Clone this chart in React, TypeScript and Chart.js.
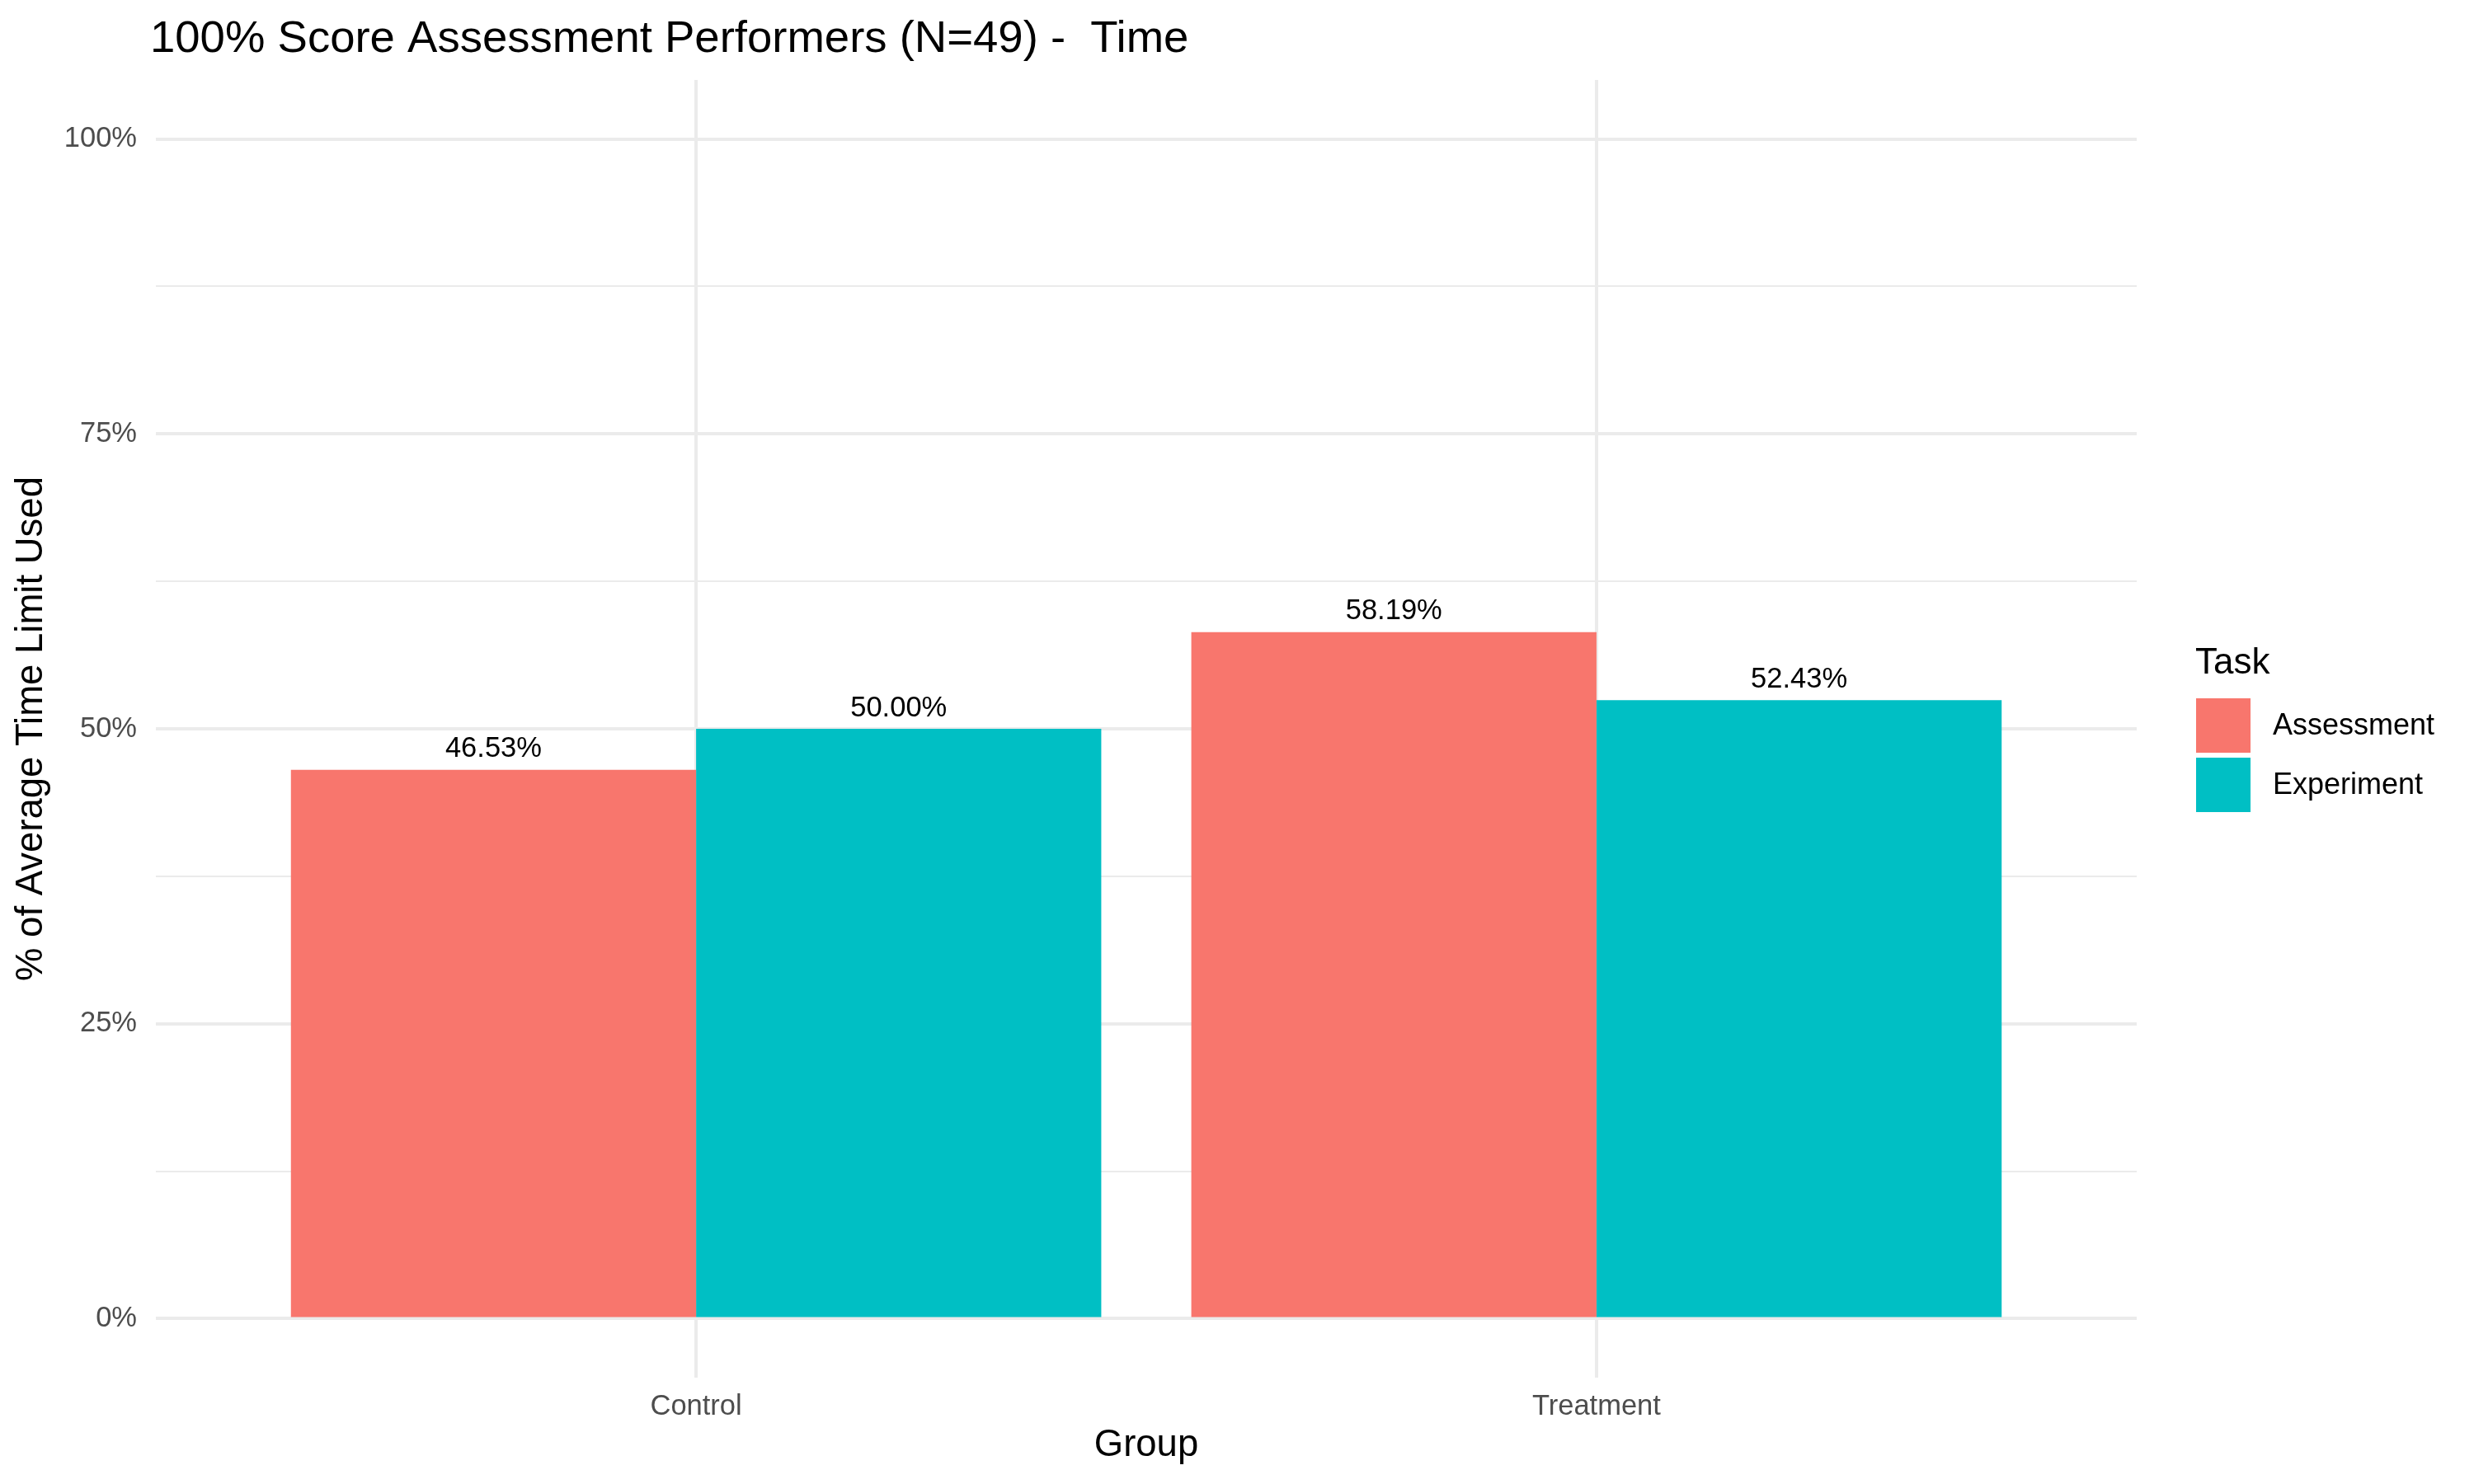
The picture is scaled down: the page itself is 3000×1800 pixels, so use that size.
import React, { useEffect, useRef } from "react";
import { Chart, registerables } from "chart.js";

Chart.register(...registerables);

const groups = ["Control", "Treatment"];
const seriesNames = ["Assessment", "Experiment"];
const assessmentValues = [46.53, 58.19];
const experimentValues = [50.0, 52.43];
const seriesColors = ["#F8766D", "#00BFC4"];
const yTickValues = [0, 12.5, 25, 37.5, 50, 62.5, 75, 87.5, 100];
const titleText = "100% Score Assessment Performers (N=49) -  Time";
const xTitle = "Group";
const yTitle = "% of Average Time Limit Used";
const legendTitle = "Task";

const FONT = "'Liberation Sans', Arial, sans-serif";

const decorPlugin = {
  id: "decor",
  afterDatasetsDraw(chart: any) {
    const ctx = chart.ctx;
    ctx.save();
    ctx.fillStyle = "#000000";
    ctx.font = `34.5px ${FONT}`;
    ctx.textAlign = "center";
    ctx.textBaseline = "middle";
    chart.data.datasets.forEach((ds: any, di: number) => {
      const meta = chart.getDatasetMeta(di);
      meta.data.forEach((bar: any, i: number) => {
        const v = ds.data[i].y;
        ctx.fillText(v.toFixed(2) + "%", bar.x, bar.y - 25);
      });
    });
    ctx.restore();
  },
  afterDraw(chart: any) {
    const ctx = chart.ctx;
    const area = chart.chartArea;
    ctx.save();
    ctx.fillStyle = "#000000";
    ctx.font = `54.5px ${FONT}`;
    ctx.textAlign = "left";
    ctx.textBaseline = "alphabetic";
    ctx.fillText(titleText, 182, 63);
    ctx.font = `45.5px ${FONT}`;
    ctx.textAlign = "center";
    ctx.textBaseline = "middle";
    ctx.fillText(xTitle, (area.left + area.right) / 2, 1753);
    ctx.save();
    ctx.translate(38, (area.top + area.bottom) / 2);
    ctx.rotate(-Math.PI / 2);
    ctx.fillText(yTitle, 0, 0);
    ctx.restore();
    ctx.textAlign = "left";
    ctx.textBaseline = "alphabetic";
    ctx.font = `44px ${FONT}`;
    ctx.fillText(legendTitle, 2662, 817);
    ctx.font = `36px ${FONT}`;
    ctx.textBaseline = "middle";
    chart.data.datasets.forEach((ds: any, di: number) => {
      const y0 = 847 + di * 72;
      ctx.fillStyle = ds.backgroundColor;
      ctx.fillRect(2663, y0, 66, 66);
      ctx.fillStyle = "#000000";
      ctx.fillText(ds.label, 2756, y0 + 34);
    });
    ctx.restore();
  },
  beforeDraw(chart: any) {
    const ctx = chart.ctx;
    ctx.save();
    ctx.fillStyle = "#FFFFFF";
    ctx.fillRect(0, 0, chart.width, chart.height);
    ctx.restore();
  },
};

export default function App() {
  const ref = useRef<HTMLCanvasElement | null>(null);
  useEffect(() => {
    if (!ref.current) return;
    const chart = new Chart(ref.current, {
      type: "bar",
      data: {
        datasets: [
          {
            label: seriesNames[0],
            data: assessmentValues.map((v, i) => ({ x: i, y: v })),
            backgroundColor: seriesColors[0],
            borderWidth: 0,
          },
          {
            label: seriesNames[1],
            data: experimentValues.map((v, i) => ({ x: i, y: v })),
            backgroundColor: seriesColors[1],
            borderWidth: 0,
          },
        ],
      },
      options: {
        animation: false,
        responsive: false,
        devicePixelRatio: 1,
        layout: { padding: { left: 0, top: 97, right: 409, bottom: 0 } },
        datasets: {
          bar: { categoryPercentage: 0.9, barPercentage: 1.0, grouped: true },
        },
        plugins: {
          legend: { display: false },
          title: { display: false },
          tooltip: { enabled: false },
        },
        scales: {
          x: {
            type: "linear",
            min: -0.6,
            max: 1.6,
            offset: false,
            afterBuildTicks: (scale: any) => {
              scale.ticks = groups.map((_, i) => ({ value: i }));
            },
            afterFit: (scale: any) => {
              scale.height = 129;
            },
            ticks: {
              autoSkip: false,
              maxRotation: 0,
              padding: 15,
              color: "#4D4D4D",
              font: { family: FONT, size: 34.5 },
              callback: (v: any) => groups[Math.round(Number(v))] ?? "",
            },
            grid: { color: "#EBEBEB", lineWidth: 4, drawTicks: false, offset: false },
            border: { display: false },
          },
          y: {
            type: "linear",
            min: -5,
            max: 105,
            afterBuildTicks: (scale: any) => {
              scale.ticks = yTickValues.map((v) => ({ value: v }));
            },
            afterFit: (scale: any) => {
              scale.width = 189;
            },
            ticks: {
              autoSkip: false,
              padding: 23,
              color: "#4D4D4D",
              font: { family: FONT, size: 34.5 },
              callback: (v: any) => (Number(v) % 25 === 0 ? `${v}%` : ""),
            },
            grid: {
              color: "#EBEBEB",
              drawTicks: false,
              lineWidth: (c: any) => (c.tick && c.tick.value % 25 === 0 ? 4 : 2),
            },
            border: { display: false },
          },
        },
      },
      plugins: [decorPlugin],
    } as any);
    return () => chart.destroy();
  }, []);
  return (
    <div style={{ position: "fixed", left: 0, top: 0, width: 3000, height: 1800, background: "#fff" }}>
      <canvas ref={ref} width={3000} height={1800} style={{ width: 3000, height: 1800, display: "block" }} />
    </div>
  );
}
